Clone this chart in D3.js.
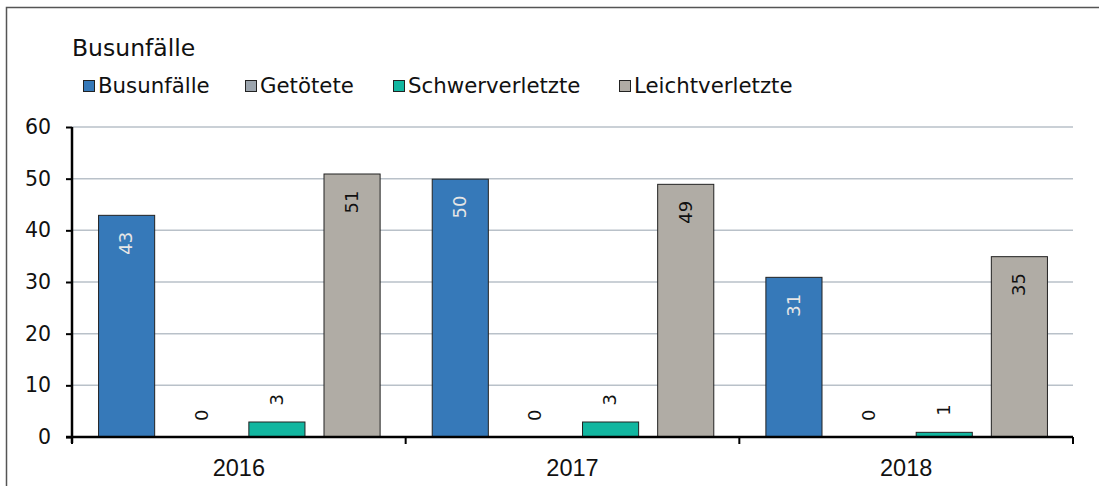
<!DOCTYPE html>
<html>
<head>
<meta charset="utf-8">
<script src="https://cdn.jsdelivr.net/npm/d3@7"></script>
<style>
  body { margin: 0; background: #fff; }
  svg { display: block; font-family: "DejaVu Sans", "Open Sans", sans-serif; }
</style>
</head>
<body>
<div id="chart"></div>
<script>
var years = ["2016", "2017", "2018"];
var seriesNames = ["Busunfälle", "Getötete", "Schwerverletzte", "Leichtverletzte"];
var busunfaelle = [43, 50, 31];
var getoetete = [0, 0, 0];
var schwerverletzte = [3, 3, 1];
var leichtverletzte = [51, 49, 35];
var yTicks = [0, 10, 20, 30, 40, 50, 60];

var colors = ["#3679b9", "#9ba4ad", "#12b6a0", "#b0aca5"];
var labelColors = ["#e6e6e6", "#111", "#111", "#111"];
var legendX = [83, 245, 393, 619];

var values = [busunfaelle, getoetete, schwerverletzte, leichtverletzte];
var data = years.map(function (yr, i) {
    return {
        year: yr,
        vals: values.map(function (v, s) { return {s: s, v: v[i]}; })
    };
});

var svg = d3.select("#chart").append("svg")
    .attr("width", 1099)
    .attr("height", 486);

// outer frame
svg.append("rect")
    .attr("x", 6.5).attr("y", 7.5)
    .attr("width", 1200).attr("height", 600)
    .attr("fill", "none").attr("stroke", "#555").attr("stroke-width", 1.5);

var mLeft = 72, mRight = 1073, mTop = 127, mBottom = 437;

var x0 = d3.scaleBand().domain(years).range([mLeft, mRight]);
var x1 = d3.scaleBand().domain(d3.range(4))
    .range([0, x0.bandwidth()])
    .paddingInner(0.2533).paddingOuter(0.3467);
var y = d3.scaleLinear().domain([0, 60]).range([mBottom, mTop]);

// gridlines
svg.append("g").selectAll("line")
    .data(yTicks.filter(function (d) { return d > 0; }))
    .enter().append("line")
    .attr("x1", mLeft).attr("x2", mRight)
    .attr("y1", function (d) { return y(d); })
    .attr("y2", function (d) { return y(d); })
    .attr("stroke", "#b9c1c9").attr("stroke-width", 1.5);

// title + legend
svg.append("text")
    .attr("x", 72).attr("y", 56)
    .attr("font-size", 23.5).attr("fill", "#111")
    .text("Busunfälle");

var leg = svg.append("g").selectAll("g")
    .data(seriesNames).enter().append("g")
    .attr("transform", function (d, i) { return "translate(" + legendX[i] + ",80)"; });
leg.append("rect")
    .attr("x", 0.5).attr("y", 0.5).attr("width", 11).attr("height", 11)
    .attr("fill", function (d, i) { return colors[i]; })
    .attr("stroke", "#222").attr("stroke-width", 1);
leg.append("text")
    .attr("x", 15).attr("y", 13)
    .attr("font-size", 21.3).attr("fill", "#111")
    .text(function (d) { return d; });

// bars
var groups = svg.append("g").selectAll("g")
    .data(data).enter().append("g")
    .attr("transform", function (d) { return "translate(" + x0(d.year) + ",0)"; });

groups.selectAll("rect")
    .data(function (d) { return d.vals.filter(function (o) { return o.v > 0; }); })
    .enter().append("rect")
    .attr("x", function (o) { return x1(o.s) + 0.5; })
    .attr("y", function (o) { return y(o.v) + 0.5; })
    .attr("width", x1.bandwidth())
    .attr("height", function (o) { return mBottom - y(o.v); })
    .attr("fill", function (o) { return colors[o.s]; })
    .attr("stroke", "#222").attr("stroke-width", 1);

// value labels, rotated to read bottom-to-top
groups.selectAll("text")
    .data(function (d) { return d.vals; })
    .enter().append("text")
    .attr("transform", function (o) {
        var cx = x1(o.s) + x1.bandwidth() / 2;
        var ty = o.v >= 20 ? y(o.v) + 17 : y(o.v) - 16;
        return "translate(" + cx + "," + ty + ") rotate(-90)";
    })
    .attr("text-anchor", function (o) { return o.v >= 20 ? "end" : "start"; })
    .attr("dy", "0.35em")
    .attr("font-size", 18)
    .attr("fill", function (o) { return o.v >= 20 ? labelColors[o.s] : "#111"; })
    .text(function (o) { return o.v; });

// y axis
var yAxis = svg.append("g")
    .attr("transform", "translate(" + mLeft + ",0)")
    .call(d3.axisLeft(y).tickValues(yTicks).tickSize(6).tickPadding(15));
yAxis.select(".domain").attr("stroke", "#000").attr("stroke-width", 2.5)
    .attr("d", "M0," + mTop + "V" + (mBottom + 6));
yAxis.selectAll(".tick line").attr("stroke", "#000").attr("stroke-width", 2);
yAxis.selectAll(".tick text")
    .attr("font-size", 20.5).attr("fill", "#111")
    .attr("font-family", "'DejaVu Sans', sans-serif");

// x axis
var xAxis = svg.append("g")
    .attr("transform", "translate(0," + mBottom + ")")
    .call(d3.axisBottom(x0).tickSize(0).tickPadding(22));
xAxis.select(".domain").attr("stroke", "#000").attr("stroke-width", 2.5)
    .attr("d", "M" + (mLeft - 6) + ",0H" + mRight);
xAxis.selectAll(".tick text")
    .attr("font-size", 23.5).attr("fill", "#111")
    .attr("font-family", "'Liberation Sans', Arial, sans-serif");

// category separators
svg.append("g").selectAll("line")
    .data(years.map(function (yr) { return x0(yr); }).concat([mRight]))
    .enter().append("line")
    .attr("x1", function (d) { return d; }).attr("x2", function (d) { return d; })
    .attr("y1", mBottom).attr("y2", mBottom + 7)
    .attr("stroke", "#000").attr("stroke-width", 2);
</script>
</body>
</html>
